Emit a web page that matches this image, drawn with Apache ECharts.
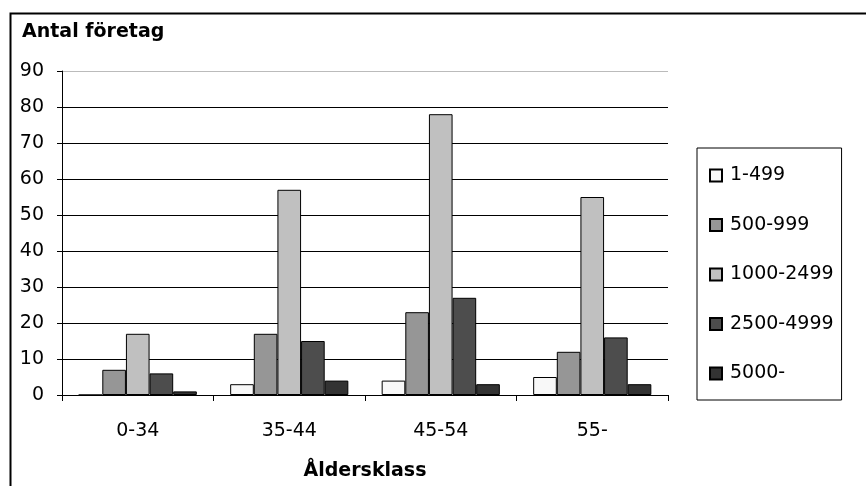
<!DOCTYPE html>
<html>
<head>
<meta charset="utf-8">
<script src="https://cdn.jsdelivr.net/npm/echarts@6/dist/echarts.min.js"></script>
<style>
html,body{margin:0;padding:0;background:#fff;}
#c{width:866px;height:486px;}
</style>
</head>
<body>
<div id="c"></div>
<script>
const categories = ['0-34', '35-44', '45-54', '55-'];
const seriesNames = ['1-499', '500-999', '1000-2499', '2500-4999', '5000-'];
const s1 = [0, 3, 4, 5];
const s2 = [7, 17, 23, 12];
const s3 = [17, 57, 78, 55];
const s4 = [6, 15, 27, 16];
const s5 = [1, 4, 3, 3];
const yTicks = [0, 10, 20, 30, 40, 50, 60, 70, 80, 90];
const colors = ['#f8f8f8', '#969696', '#c0c0c0', '#4d4d4d', '#333333'];
const values = [s1, s2, s3, s4, s5];

const font = '"DejaVu Sans", Arial, sans-serif';
const chart = echarts.init(document.getElementById('c'));
chart.setOption({
  animation: false,
  backgroundColor: '#fff',
  title: {
    text: 'Antal företag',
    left: 17, top: 18,
    textStyle: { fontFamily: font, fontSize: 19, fontWeight: 'bold', color: '#000' }
  },
  graphic: [{
    type: 'rect', left: 8, top: 11, z: -1,
    shape: { width: 857, height: 500 },
    style: { fill: 'none', stroke: '#000', lineWidth: 2 }
  }],
  legend: {
    orient: 'vertical',
    left: 697, top: 148,
    padding: [18, 8, 17, 12],
    itemGap: 30.5,
    itemWidth: 12, itemHeight: 12,
    borderColor: '#000', borderWidth: 1,
    icon: 'rect',
    textStyle: { fontFamily: font, fontSize: 19, color: '#000', padding: [0, 0, 0, 3] },
    data: seriesNames
  },
  grid: { left: 62, right: 198, top: 71, bottom: 90 },
  xAxis: {
    type: 'category',
    data: categories,
    name: 'Åldersklass',
    nameLocation: 'middle',
    nameGap: 67,
    nameTextStyle: { fontFamily: font, fontSize: 19, fontWeight: 'bold', color: '#000' },
    axisLine: { lineStyle: { color: '#000', width: 1 } },
    axisTick: { show: true, length: 6, lineStyle: { color: '#000' } },
    axisLabel: { fontFamily: font, fontSize: 19, color: '#000', margin: 27 }
  },
  yAxis: {
    type: 'value',
    min: 0, max: 90, interval: 10,
    axisLine: { show: true, lineStyle: { color: '#000', width: 1 } },
    axisTick: { show: true, length: 5, lineStyle: { color: '#000' } },
    axisLabel: {
      fontFamily: font, fontSize: 19, color: '#000', margin: 18,
      formatter: v => yTicks.includes(v) ? String(v) : ''
    },
    splitLine: { show: true, lineStyle: { color: ['#000','#000','#000','#000','#000','#000','#000','#000','#000','#bbb'], width: 1 } }
  },
  series: seriesNames.map((n, i) => ({
    name: n,
    type: 'bar',
    data: values[i],
    barGap: '0%',
    barCategoryGap: '22%',
    itemStyle: { color: colors[i], borderColor: '#000', borderWidth: 1 }
  }))
});
</script>
</body>
</html>
